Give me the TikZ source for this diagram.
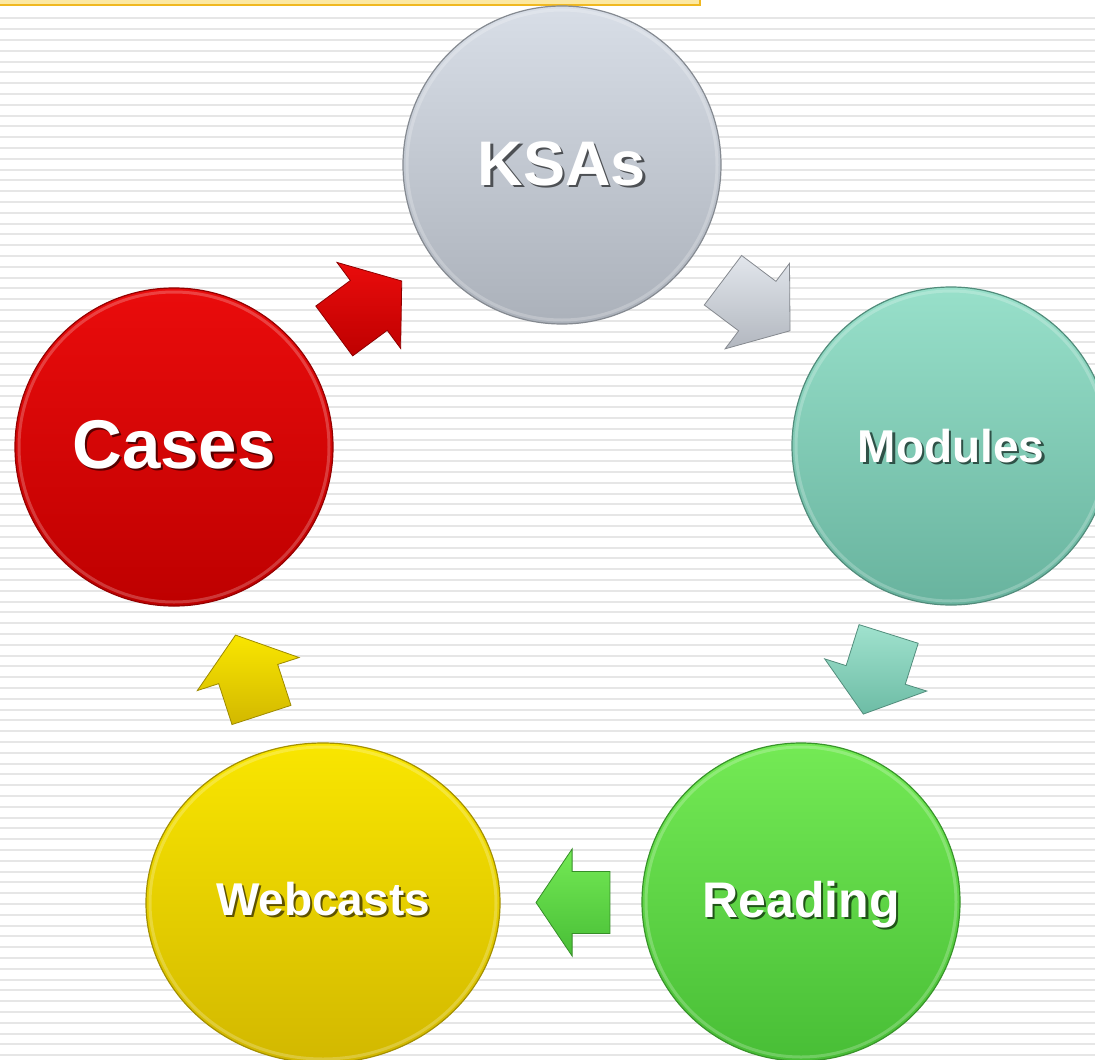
\documentclass[tikz,border=0pt]{standalone}
\usepackage{fontspec}
\setmainfont{Liberation Sans}
\usetikzlibrary{calc,shapes.geometric}

% palette
\definecolor{stripe}{HTML}{E6E6E6}
\definecolor{barfill}{HTML}{FCE8A2}
\definecolor{barline}{HTML}{F0B820}
\definecolor{ksaTop}{HTML}{D8DEE7}
\definecolor{ksaBot}{HTML}{ABB1BA}
\definecolor{modTop}{HTML}{98E0CA}
\definecolor{modBot}{HTML}{68B39E}
\definecolor{reaTop}{HTML}{74EA55}
\definecolor{reaBot}{HTML}{48BE36}
\definecolor{webTop}{HTML}{F9E600}
\definecolor{webBot}{HTML}{D2B800}
\definecolor{casTop}{HTML}{EA0C0C}
\definecolor{casBot}{HTML}{BE0000}
\definecolor{grTop}{HTML}{E2E6EC}
\definecolor{grBot}{HTML}{B2B7BF}
\definecolor{tlTop}{HTML}{A0E2CE}
\definecolor{tlBot}{HTML}{6DBCA5}

\tikzset{
  disc/.style args={#1/#2}{circle, inner sep=0pt, minimum size=318pt,
    top color=#1, bottom color=#2, draw=#2!78!black, line width=1.2pt},
  rim/.style={white, opacity=0.22, line width=3pt},
  lbl/.style={text=white, anchor=base, inner sep=0pt},
}

% block arrow pointing along the local x axis, centred on the given point
\newcommand\cyclearrow[5][]{%
  \begin{scope}[shift={#2}, rotate=#3, #1]
    \draw[top color=#4, bottom color=#5, draw=#5!75!black, line width=0.8pt, line join=miter]
      (-42,-31) -- (1,-31) -- (1,-53.5) -- (42,0) -- (1,53.5) -- (1,31) -- (-42,31) -- cycle;
  \end{scope}}

% white bold text over a darker copy that is offset down and right
\newcommand\shadowed[2]{%
  \makebox[0pt][l]{\hspace{2.5pt}\raisebox{-2.5pt}{\textcolor{#1}{#2}}}#2}

% label of a disc: node, vertical offset, font size, shadow colour, text
\newcommand\circlelabel[5]{%
  \node[lbl, font=\bfseries\fontsize{#3}{#3}\selectfont]
    at ([yshift=#2]#1.center) {\shadowed{#4}{#5}};}

\begin{document}
\begin{tikzpicture}[x=1pt, y=-1pt]
  \useasboundingbox (0,0) rectangle (1095,1060);
  \clip (0,0) rectangle (1095,1060);

  % striped background
  \fill[white] (0,0) rectangle (1095,1060);
  \foreach \i in {0,...,96}
    \draw[stripe, line width=2pt] (0,{18.3+10.8*\i}) -- (1095,{18.3+10.8*\i});

  % title bar remnant along the top edge
  \draw[barline, fill=barfill, line width=1.5pt] (-3,-3) rectangle (700,5);

  % the five stages
  \node[disc=ksaTop/ksaBot] (ksa) at (562,165) {};
  \node[disc=modTop/modBot] (mod) at (951,446) {};
  \node[disc=reaTop/reaBot] (rea) at (801,902) {};
  \node[disc=webTop/webBot, ellipse, minimum width=354pt, minimum height=320pt] (web) at (323,903) {};
  \node[disc=casTop/casBot] (cas) at (174,447) {};

  % bevel highlight inside each disc
  \foreach \n in {ksa,mod,rea,cas}
    \draw[rim] (\n.center) circle[radius=155];
  \draw[rim] (web.center) ellipse[x radius=173, y radius=156];

  % arrows around the cycle
  \cyclearrow{($(ksa)!0.5!(mod)$)}{-37}{grTop}{grBot}
  \cyclearrow{($(mod)!0.5!(rea)$)}{-107.5}{tlTop}{tlBot}
  \cyclearrow[xscale=0.88]{($(rea)!0.477!(web)$)}{180}{reaTop}{reaBot}
  \cyclearrow{($(web)!0.5!(cas)$)}{108}{webTop}{webBot}
  \cyclearrow{($(cas)!0.5!(ksa)$)}{36.5}{casTop}{casBot}

  % labels
  \circlelabel{ksa}{-20pt}{63}{ksaBot!45!black}{KSAs}
  \circlelabel{mod}{-16pt}{46}{modBot!45!black}{Modules}
  \circlelabel{rea}{-15pt}{50}{reaBot!45!black}{Reading}
  \circlelabel{web}{-12pt}{46}{webBot!45!black}{Webcasts}
  \circlelabel{cas}{-21pt}{69}{casBot!45!black}{Cases}
\end{tikzpicture}
\end{document}
